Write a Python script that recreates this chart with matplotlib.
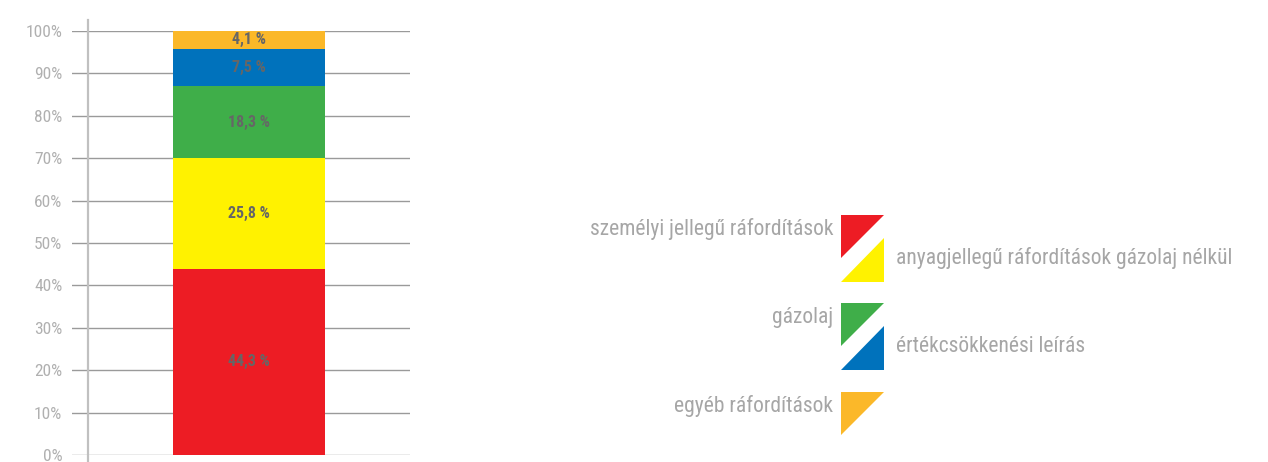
import matplotlib
matplotlib.use("Agg")
import matplotlib.pyplot as plt
from matplotlib import font_manager
from matplotlib.patches import Polygon

# ---- data ----
categories = ["személyi jellegű ráfordítások",
              "anyagjellegű ráfordítások gázolaj nélkül",
              "gázolaj",
              "értékcsökkenési leírás",
              "egyéb ráfordítások"]
# segment heights as drawn in the picture
values = [43.9, 26.1, 17.0, 8.8, 4.2]
# labels as printed on the segments
value_labels = ["44,3 %", "25,8 %", "18,3 %", "7,5 %", "4,1 %"]
colors = ["#ED1C24", "#FFF200", "#3FAE49", "#0072BC", "#FBB829"]
yticks = [0, 10, 20, 30, 40, 50, 60, 70, 80, 90, 100]
ytick_labels = ["0%", "10%", "20%", "30%", "40%", "50%", "60%", "70%", "80%", "90%", "100%"]

available = {f.name for f in font_manager.fontManager.ttflist}
fam = "DejaVu Sans"
for cand in ["Liberation Sans Narrow", "Roboto Condensed", "Open Sans Condensed", "Roboto", "Lato"]:
    if cand in available:
        fam = cand
        break
plt.rcParams["font.family"] = [fam, "DejaVu Sans"]

W, H = 1268, 462
fig = plt.figure(figsize=(W / 100, H / 100), dpi=100)

def fx(px):
    return px / W

def fy(py):
    return 1 - py / H

ax = fig.add_axes([fx(72), fy(455), fx(410) - fx(72), fy(31) - fy(455)])
ax.set_xlim(0, 1)
ax.set_ylim(0, 100)

for s in ax.spines.values():
    s.set_visible(False)

for t in yticks:
    ax.axhline(t, color="#9a9a9a", lw=1.0, zorder=1)

# y axis line
ax.plot([16 / 338, 16 / 338], [-1.7, 102.6], color="#c0c0c0", lw=1.6,
        clip_on=False, zorder=3)

ax.set_yticks(yticks)
ax.set_yticklabels(ytick_labels, color="#b0b0b0", fontsize=12.5)
ax.tick_params(axis="y", length=0, pad=7)
ax.set_xticks([])

bar_x = (249 - 72) / 338
bar_w = 152 / 338
bottom = 0
for v, lab, c in zip(values, value_labels, colors):
    ax.bar(bar_x, v, width=bar_w, bottom=bottom, color=c, zorder=2)
    ax.text(bar_x, bottom + v / 2, lab, ha="center", va="center",
            color="#666666", fontsize=11.5, fontweight="bold", zorder=4)
    bottom += v

# legend: alternating triangles
tri = 43
x0 = 841
y_top = [215, 238, 303, 326, 392]
for i, (cat, c) in enumerate(zip(categories, colors)):
    yt = y_top[i]
    if i % 2 == 0:
        pts = [(x0, yt), (x0 + tri, yt), (x0, yt + tri)]
        fig.text(fx(x0 - 8), fy(yt + 14), cat, ha="right", va="center",
                 color="#a6a6a6", fontsize=15.5)
    else:
        pts = [(x0 + tri, yt), (x0 + tri, yt + tri + 1), (x0, yt + tri + 1)]
        fig.text(fx(x0 + tri + 12), fy(yt + 20), cat, ha="left", va="center",
                 color="#a6a6a6", fontsize=15.5)
    fig.patches.append(Polygon([(fx(a), fy(b)) for a, b in pts], closed=True,
                               transform=fig.transFigure, facecolor=c,
                               edgecolor="none"))

fig.savefig("out.png", dpi=100)
